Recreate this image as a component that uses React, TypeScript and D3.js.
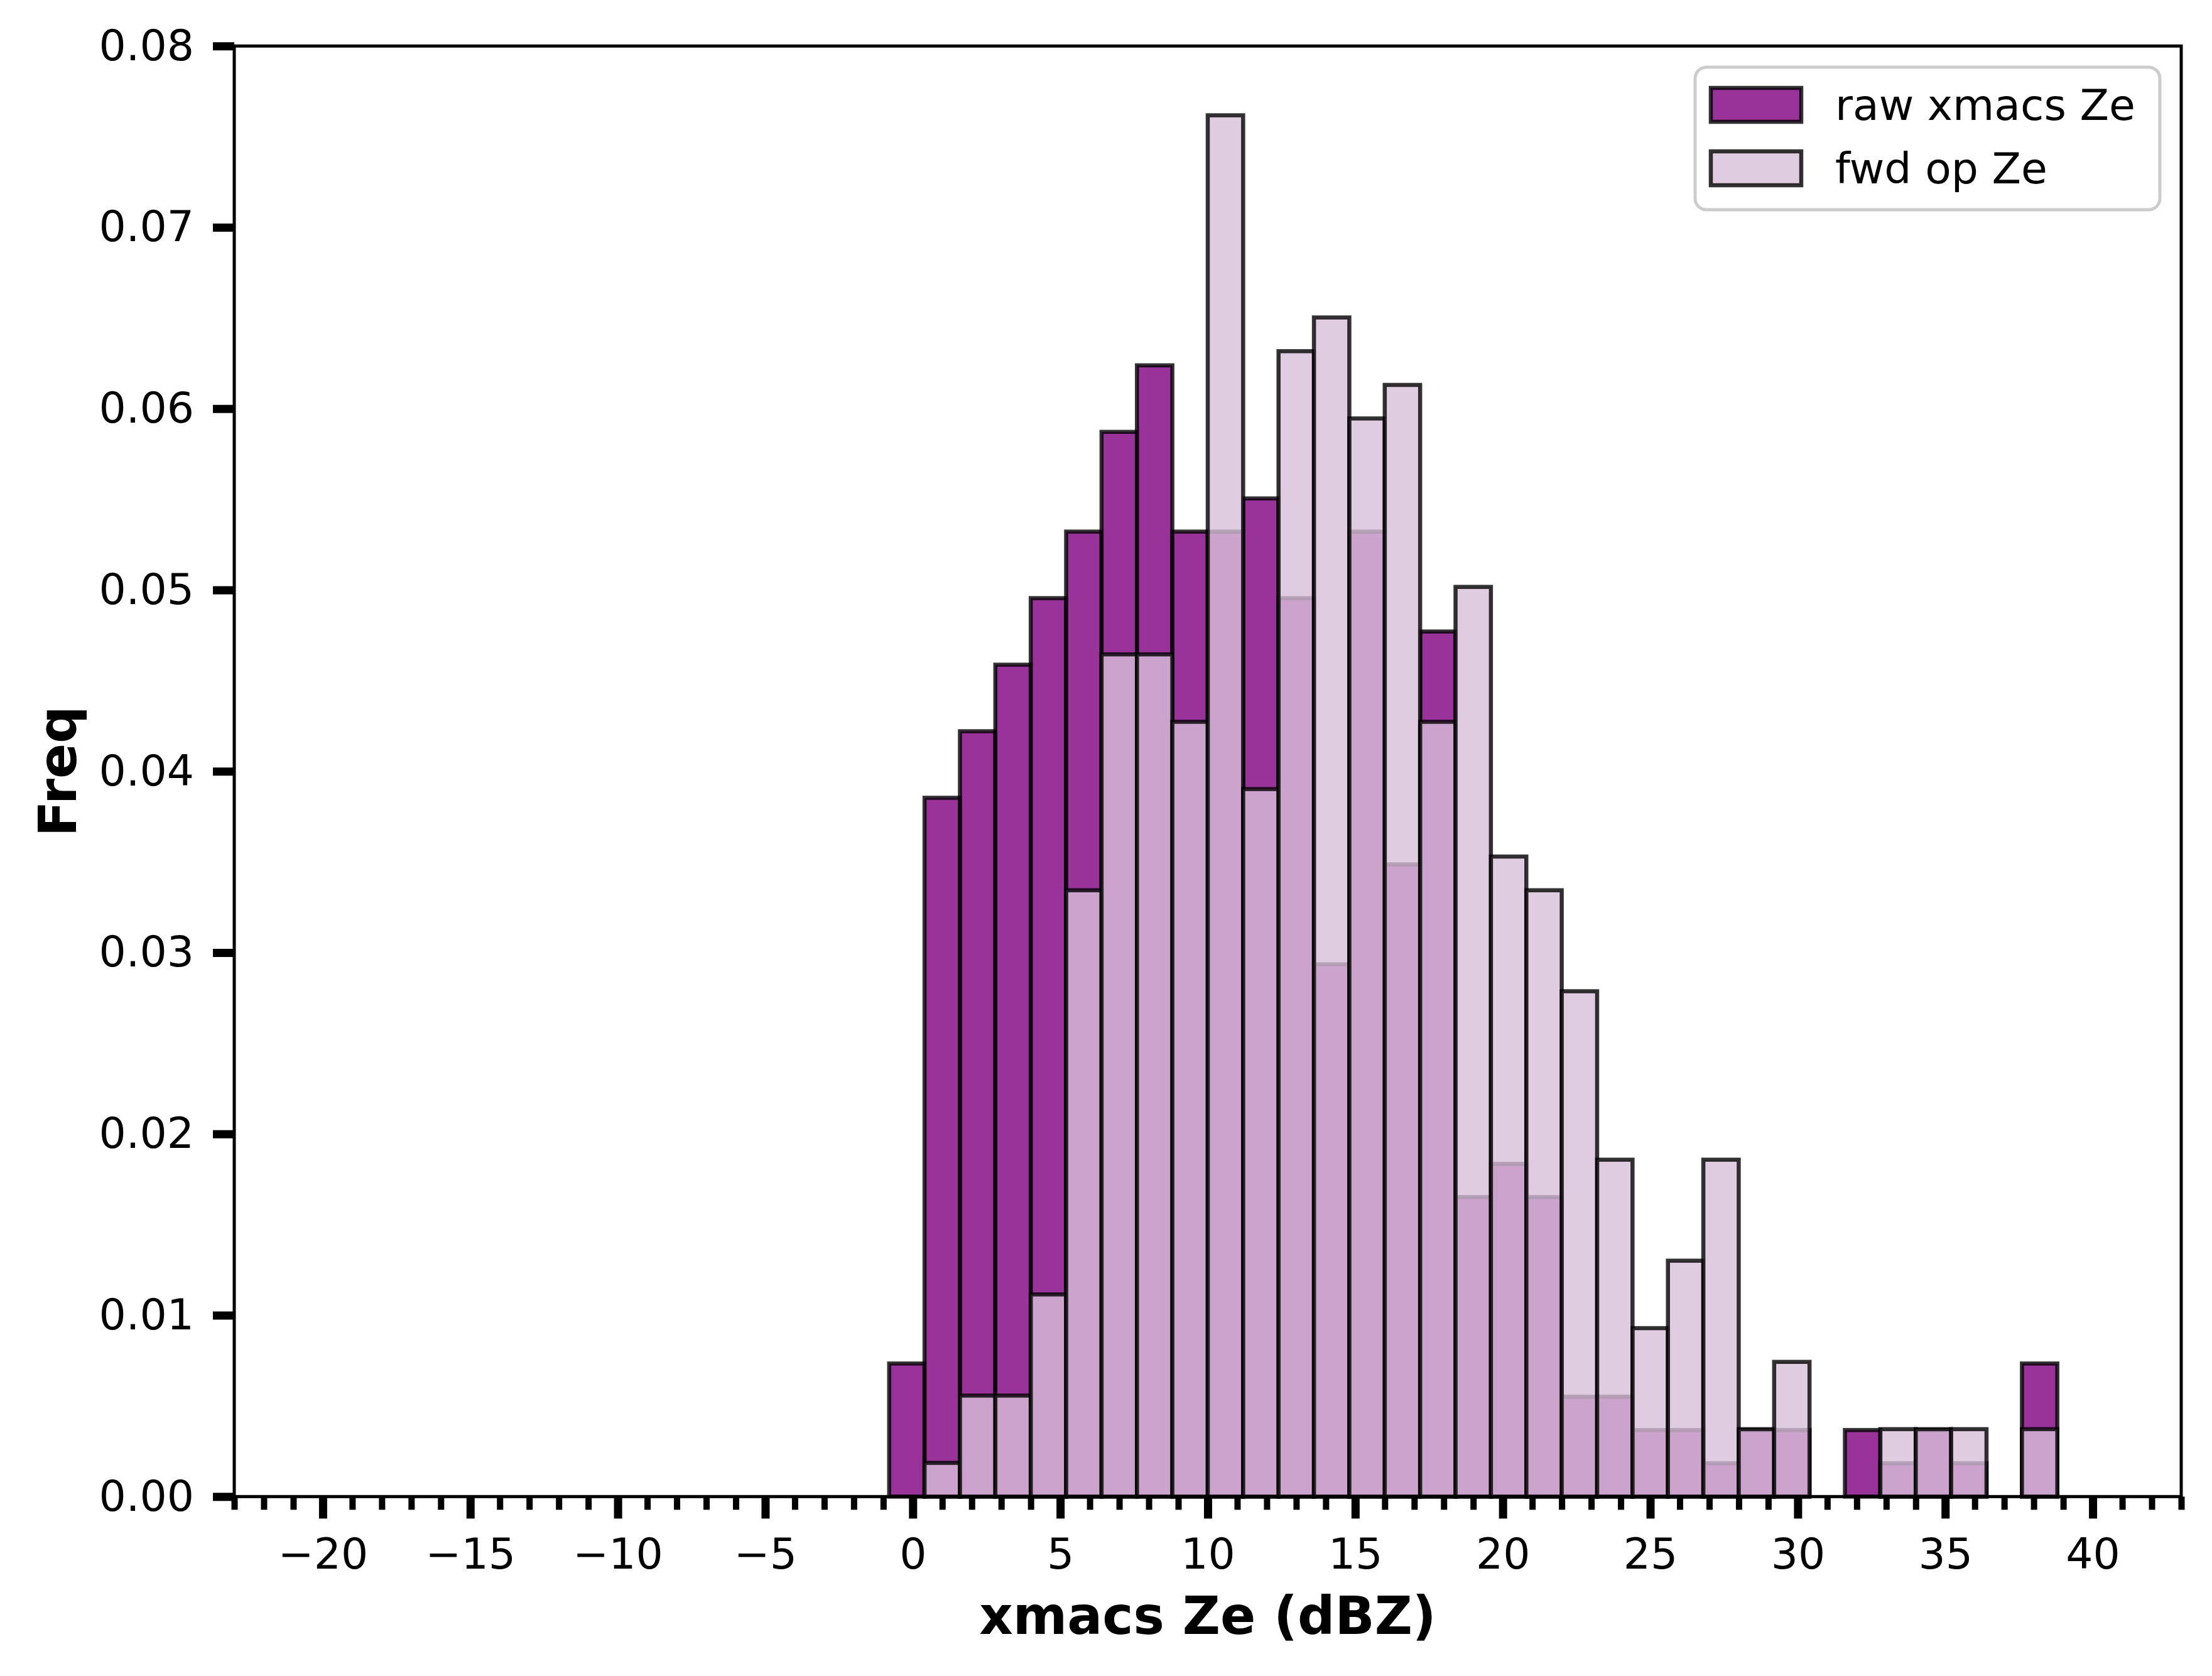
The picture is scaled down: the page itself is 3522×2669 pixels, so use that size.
import * as d3 from "d3";
import { useRef, useEffect } from "react";

// histogram bins: 1.2 dBZ wide, -20 .. 40
const binEdges = [
  -20, -18.8, -17.6, -16.4, -15.2, -14, -12.8, -11.6, -10.4, -9.2,
  -8, -6.8, -5.6, -4.4, -3.2, -2, -0.8, 0.4, 1.6, 2.8,
  4, 5.2, 6.4, 7.6, 8.8, 10, 11.2, 12.4, 13.6, 14.8,
  16, 17.2, 18.4, 19.6, 20.8, 22, 23.2, 24.4, 25.6, 26.8,
  28, 29.2, 30.4, 31.6, 32.8, 34, 35.2, 36.4, 37.6, 38.8, 40,
];

// density per bin (bins 0..15 are empty)
const rawFreq = [
  0, 0, 0, 0, 0, 0, 0, 0, 0, 0, 0, 0, 0, 0, 0, 0,
  0.00734, 0.03854, 0.04221, 0.04588, 0.04955, 0.05322, 0.05872, 0.06239,
  0.05322, 0.05322, 0.05505, 0.04955, 0.02936, 0.05322, 0.03487, 0.04771,
  0.01652, 0.01835, 0.01652, 0.00551, 0.00551, 0.00367, 0.00367, 0.00184,
  0.00367, 0.00367, 0, 0.00367, 0.00184, 0.00367, 0.00184, 0, 0.00734, 0,
];

const fwdFreq = [
  0, 0, 0, 0, 0, 0, 0, 0, 0, 0, 0, 0, 0, 0, 0, 0,
  0, 0.00186, 0.00557, 0.00557, 0.01115, 0.03344, 0.04645, 0.04645,
  0.04273, 0.07618, 0.03902, 0.06317, 0.06503, 0.05946, 0.06131, 0.04273,
  0.05017, 0.0353, 0.03344, 0.02787, 0.01858, 0.00929, 0.01301, 0.01858,
  0.00372, 0.00743, 0, 0, 0.00372, 0.00372, 0.00372, 0, 0.00372, 0,
];

const seriesNames = ["raw xmacs Ze", "fwd op Ze"];
const xMajorTicks = [-20, -15, -10, -5, 0, 5, 10, 15, 20, 25, 30, 35, 40];
const yTicks = [0, 0.01, 0.02, 0.03, 0.04, 0.05, 0.06, 0.07, 0.08];

const W = 3522;
const H = 2669;
const L = 373;
const R = 3473;
const T = 73.3;
const B = 2383.3;
const FONT = "DejaVu Sans";

const App = () => {
  const gx = useRef<SVGGElement>(null);
  const gxMinor = useRef<SVGGElement>(null);
  const gy = useRef<SVGGElement>(null);

  const x = d3.scaleLinear().domain([-23, 43]).range([L, R]);
  const y = d3.scaleLinear().domain([0, 0.08]).range([B, T]);

  const minorTicks = d3.range(-23, 44).filter(v => v % 5 !== 0);

  useEffect(() => {
    if (gx.current) {
      const g = d3.select(gx.current);
      g.call(
        d3.axisBottom(x)
          .tickValues(xMajorTicks)
          .tickSize(35)
          .tickPadding(31)
          .tickFormat(d => d3.format("d")(d as number).replace("-", "\u2212"))
      );
      g.select(".domain").remove();
      g.selectAll("line").attr("stroke", "black").attr("stroke-width", 13);
      g.selectAll("text").attr("font-size", 68).attr("font-family", FONT).attr("fill", "black");
    }
    if (gxMinor.current) {
      const g = d3.select(gxMinor.current);
      g.call(d3.axisBottom(x).tickValues(minorTicks).tickSize(21).tickFormat(() => ""));
      g.select(".domain").remove();
      g.selectAll("line").attr("stroke", "black").attr("stroke-width", 10);
    }
    if (gy.current) {
      const g = d3.select(gy.current);
      g.call(
        d3.axisLeft(y)
          .tickValues(yTicks)
          .tickSize(34)
          .tickPadding(30)
          .tickFormat(d3.format(".2f"))
      );
      g.select(".domain").remove();
      g.selectAll("line").attr("stroke", "black").attr("stroke-width", 13);
      g.selectAll("text").attr("font-size", 68).attr("font-family", FONT).attr("fill", "black");
    }
  }, []);

  const bars = (vals: number[], fill: string, key: string) =>
    vals.map((v, i) =>
      v > 0 ? (
        <rect
          key={key + i}
          x={x(binEdges[i])}
          y={y(v)}
          width={x(binEdges[i + 1]) - x(binEdges[i])}
          height={y(0) - y(v)}
          fill={fill}
          fillOpacity={0.8}
          stroke="black"
          strokeOpacity={0.8}
          strokeWidth={6.5}
        />
      ) : null
    );

  const legendColors = ["purple", "thistle"];

  return (
    <svg
      width={W}
      height={H}
      style={{ position: "absolute", left: 0, top: 0, background: "white" }}
    >
      <rect x={0} y={0} width={W} height={H} fill="white" />
      {bars(rawFreq, "purple", "r")}
      {bars(fwdFreq, "thistle", "f")}

      <g ref={gxMinor} transform={`translate(0,${B})`} />
      <g ref={gx} transform={`translate(0,${B})`} />
      <g ref={gy} transform={`translate(${L},0)`} />

      <rect x={L} y={T} width={R - L} height={B - T} fill="none" stroke="black" strokeWidth={5} />

      <text
        x={(L + R) / 2}
        y={2602}
        textAnchor="middle"
        fontFamily={FONT}
        fontWeight="bold"
        fontSize={83}
      >
        xmacs Ze (dBZ)
      </text>
      <text
        transform={`translate(121,${(T + B) / 2}) rotate(-90)`}
        textAnchor="middle"
        fontFamily={FONT}
        fontWeight="bold"
        fontSize={83}
      >
        Freq
      </text>

      <g>
        <rect
          x={2699}
          y={107}
          width={740}
          height={227}
          rx={18}
          fill="white"
          fillOpacity={0.8}
          stroke="#cccccc"
          strokeWidth={5}
        />
        {seriesNames.map((name, i) => (
          <g key={name} transform={`translate(0,${i * 101})`}>
            <rect
              x={2724}
              y={140}
              width={144}
              height={54}
              fill={legendColors[i]}
              fillOpacity={0.8}
              stroke="black"
              strokeOpacity={0.8}
              strokeWidth={6.5}
            />
            <text x={2922} y={191} fontFamily={FONT} fontSize={68}>
              {name}
            </text>
          </g>
        ))}
      </g>
    </svg>
  );
};

export default App;
